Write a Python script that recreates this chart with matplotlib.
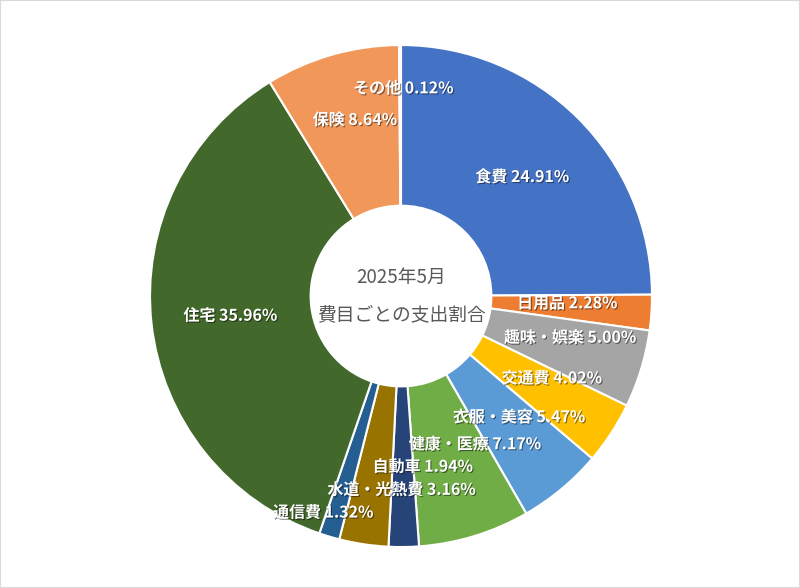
import numpy as np
import matplotlib.pyplot as plt
import matplotlib.patheffects as pe
from matplotlib.patches import Rectangle

plt.rcParams['font.family'] = ['Noto Sans CJK JP', 'DejaVu Sans']

# data (clockwise from 12 o'clock)
categories = ['食費', '日用品', '趣味・娯楽', '交通費', '衣服・美容', '健康・医療',
              '自動車', '水道・光熱費', '通信費', '住宅', '保険', 'その他']
shares = [24.91, 2.28, 5.00, 4.02, 5.47, 7.17, 1.94, 3.16, 1.32, 35.96, 8.64, 0.12]
colors = ['#4472C4', '#ED7D31', '#A5A5A5', '#FFC000', '#5B9BD5', '#70AD47',
          '#264478', '#997300', '#255E91', '#43682B', '#F1975A', '#698ED0']
title_lines = ['2025年5月', '費目ごとの支出割合']

# label nudges (pixels) away from ring centre, like Excel's overlap shuffling
nudges = [(1, -2), (-4, 4), (6, 8), (8, 11), (9, 10), (24, 15),
          (20, 0), (26, -25), (-29, -53), (-1, -1), (1, 12), (3, 37)]

fig = plt.figure(figsize=(8, 5.88), dpi=100)
fig.patches.append(Rectangle((0, 0), 1, 1, transform=fig.transFigure,
                             fill=False, edgecolor='#D9D9D9', linewidth=1.5))

ax = fig.add_axes([0.1875, 0.0697, 0.6275, 0.8537])
hole = 0.36
wedges, _ = ax.pie(shares, colors=colors, startangle=90, counterclock=False,
                   radius=1, wedgeprops=dict(width=1 - hole, edgecolor='white', linewidth=1.5))
ax.set_xlim(-1, 1)
ax.set_ylim(-1, 1)
ax.set_aspect('equal')
ax.axis('off')

shadow = [pe.SimplePatchShadow(offset=(0.8, -0.8), shadow_rgbFace='black', alpha=0.45), pe.Normal()]
r_mid = (1 + hole) / 2
for w, cat, val, (dx, dy) in zip(wedges, categories, shares, nudges):
    ang = np.deg2rad((w.theta1 + w.theta2) / 2)
    ax.annotate(f'{cat} {val:.2f}%', xy=(r_mid * np.cos(ang), r_mid * np.sin(ang)),
                xytext=(dx, dy), textcoords='offset pixels',
                ha='center', va='center', fontsize=11.5, fontweight='bold',
                color='white', path_effects=shadow)

ax.text(0, 0.075, title_lines[0], ha='center', va='center', fontsize=13.5, color='#595959')
ax.text(0, -0.075, title_lines[1], ha='center', va='center', fontsize=13.5, color='#595959')

fig.savefig('out.png', dpi=100)
